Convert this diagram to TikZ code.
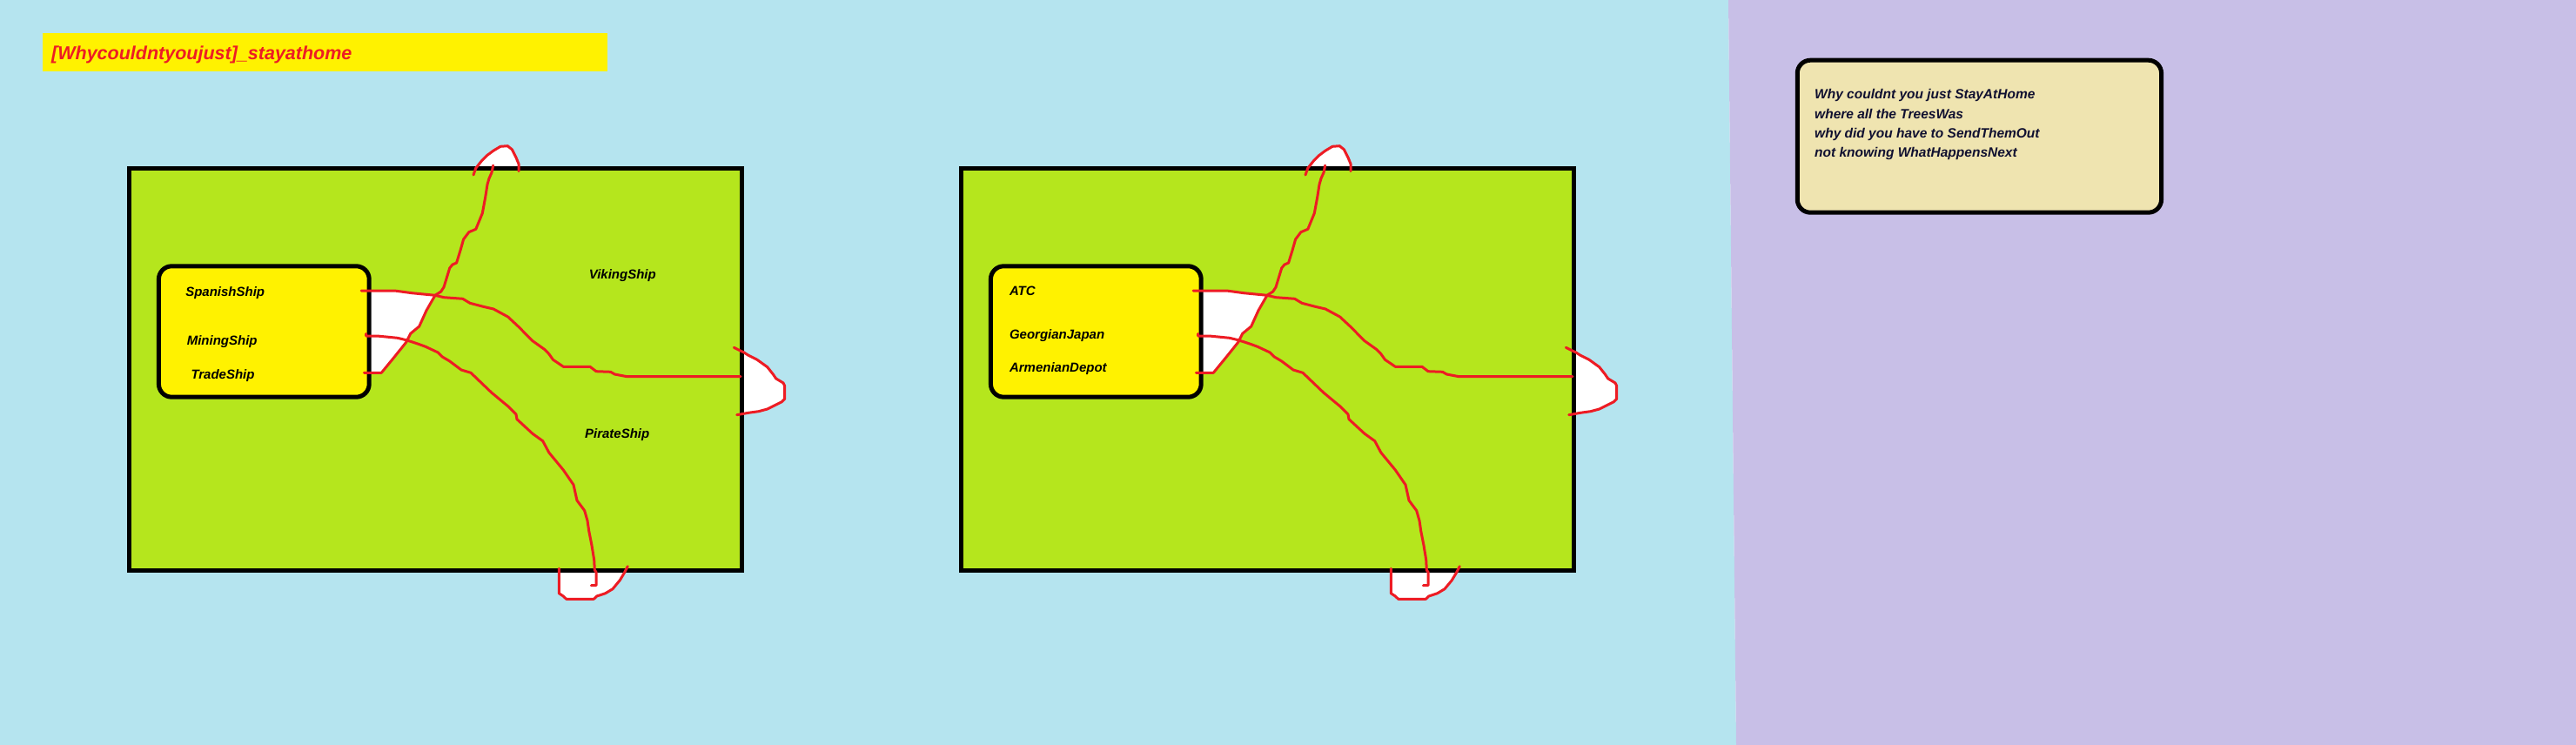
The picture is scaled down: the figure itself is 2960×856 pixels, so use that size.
\documentclass[tikz,border=0pt]{standalone}
\usepackage{fontspec}
\setmainfont{Liberation Sans}
\definecolor{bgblue}{RGB}{181,228,239}
\definecolor{bgpurple}{RGB}{200,191,231}
\definecolor{limefill}{RGB}{181,230,29}
\definecolor{shipyellow}{RGB}{255,242,0}
\definecolor{redink}{RGB}{237,28,36}
\definecolor{beigefill}{RGB}{239,228,176}
\definecolor{navyink}{RGB}{16,16,48}
\tikzset{
  panelframe/.style={draw=black, fill=limefill, line width=5pt, minimum width=704.6pt, minimum height=461.5pt, inner sep=0pt, outer sep=0pt},
  shipbox/.style={draw=black, fill=shipyellow, line width=5pt, rounded corners=15pt, minimum width=241.8pt, minimum height=150.4pt, inner sep=0pt, outer sep=0pt},
  infobox/.style={draw=black, fill=beigefill, line width=5pt, rounded corners=15pt, minimum width=418.3pt, minimum height=175pt, inner sep=0pt, outer sep=0pt},
  titlebar/.style={fill=shipyellow, minimum width=649.5pt, minimum height=44pt, inner sep=0pt, outer sep=0pt},
  redline/.style={draw=redink, line width=3pt, line join=round, line cap=round},
  whitepatch/.style={fill=white, draw=none},
  shiplabel/.style={font=\fontsize{15}{18}\selectfont\bfseries\itshape, text=black, anchor=base west, inner sep=0pt},
  titletext/.style={font=\fontsize{21.5}{26}\selectfont\bfseries\itshape, text=redink, anchor=base west, inner sep=0pt},
  infotext/.style={font=\fontsize{15.5}{19}\selectfont\bfseries\itshape, text=navyink, anchor=base west, inner sep=0pt},
}
\newcommand{\shippanel}[2]{%
\begin{scope}[xshift=#2pt]
  % white patches outside the frame
  \fill[whitepatch] (546.7,197) -- (546.7,193.3) -- (553.3,185) -- (560,178.3) -- (566.7,173.3) -- (575,168.3) -- (583.3,167.7) -- (588.3,171.7) -- (593.3,181.7) -- (596,188.3) -- (596,197) -- cycle;
  \fill[whitepatch] (849,403) -- (855,405) -- (860,408.3) -- (870,413.3) -- (881.7,421.7) -- (888.3,430) -- (891.7,435) -- (900,440) -- (901.7,443.3) -- (901.7,458.3) -- (898.3,461.7) -- (891.7,465) -- (881.7,470) -- (871.7,472.7) -- (860,474.3) -- (849,476.3) -- cycle;
  \fill[whitepatch] (642.3,651) -- (642.3,681.7) -- (647.3,685) -- (650.7,688.3) -- (682.3,688.3) -- (685.7,685) -- (695.7,681.7) -- (704,676.7) -- (712.3,666.7) -- (717.3,658.3) -- (719,651) -- cycle;
  % frame
  \node[panelframe] (#1frame) at (500.3,424.25) {};
  % white patch inside
  \fill[whitepatch] (424,334) -- (453.3,334) -- (473.3,336.7) -- (500,339.3) -- (490,356.7) -- (481.7,375) -- (471.7,383.3) -- (466.7,393.3) -- (453.3,410) -- (438.3,428.3) -- (424,428.3) -- cycle;
  % ship box
  \node[shipbox] (#1box) at (303.3,381) {};
  % connector ends
  \coordinate (#1sa) at (415,334);
  \coordinate (#1sb) at (420.7,383.3);
  \coordinate (#1sc) at (418.3,428.3);
  \coordinate (#1ea) at (851,432.7);
  \coordinate (#1eb) at (679.3,672.7);
  \coordinate (#1ec) at (566.7,190);
  % red lines
  \draw[redline] (#1sa) -- (453.3,334) -- (473.3,336.7) -- (500,339.3) -- (510,341.7) -- (531.7,343.3) -- (540,348.3) -- (555.3,352.3) -- (567,355) -- (583.6,364) -- (595.4,375) -- (612,391.7) -- (626,401.7) -- (630.8,406.7) -- (635.5,413.3) -- (647.3,421.3) -- (678,421.3) -- (685,426.7) -- (701.6,427.3) -- (706.3,430) -- (720.5,432.7) -- (#1ea);
  \draw[redline] (#1sb) -- (420.7,386) -- (433.3,386) -- (456.7,388.3) -- (466.7,390.7) -- (480,395) -- (489,398.3) -- (503.3,405) -- (508.3,410) -- (516.7,415) -- (530,425) -- (541,428.3) -- (564.7,451) -- (583.6,466.7) -- (593,476) -- (594,481.7) -- (612,498.3) -- (623.7,506.7) -- (630.8,520) -- (647.3,540) -- (659,557) -- (663,575) -- (671.7,586.7) -- (675,598.3) -- (676.7,610) -- (680,626.7) -- (682.7,643.3) -- (683.3,655) -- (685,657.3) -- (685,672.7) -- (#1eb);
  \draw[redline] (#1sc) -- (438.3,428.3) -- (453.3,410) -- (466.7,393.3) -- (471.7,383.3) -- (481.7,375) -- (490,356.7) -- (500,339.3) -- (506.7,335) -- (510,330) -- (516.7,308) -- (520,304) -- (524.6,302) -- (529.3,286.7) -- (532.6,275) -- (538.8,266.7) -- (546.8,263.3) -- (554.3,245) -- (557.7,226.7) -- (560,212) -- (562,205) -- (565,198.3) -- (#1ec);
  % bump outlines
  \draw[redline] (544,201) -- (546.7,193.3) -- (553.3,185) -- (560,178.3) -- (566.7,173.3) -- (575,168.3) -- (583.3,167.7) -- (588.3,171.7) -- (593.3,181.7) -- (596,188.3) -- (596,196.7);
  \draw[redline] (843.3,399.3) -- (850,402.7) -- (855,405) -- (860,408.3) -- (870,413.3) -- (881.7,421.7) -- (888.3,430) -- (891.7,435) -- (900,440) -- (901.7,443.3) -- (901.7,458.3) -- (898.3,461.7) -- (891.7,465) -- (881.7,470) -- (871.7,472.7) -- (860,474.3) -- (846.7,476.7);
  \draw[redline] (642.3,653.3) -- (642.3,681.7) -- (647.3,685) -- (650.7,688.3) -- (682.3,688.3) -- (685.7,685) -- (695.7,681.7) -- (704,676.7) -- (712.3,666.7) -- (717.3,658.3) -- (721.3,650.7);
\end{scope}}

\begin{document}
\begin{tikzpicture}[x=1pt,y=-1pt]
  \useasboundingbox (0,0) rectangle (2960,856);
  \fill[bgblue] (0,0) -- (1986,0) -- (1995,856) -- (0,856) -- cycle;
  \fill[bgpurple] (1986,0) -- (2960,0) -- (2960,856) -- (1995,856) -- cycle;
  % title
  \node[titlebar] (titlebar) at (373.25,59.7) {};
  \node[titletext] (titletxt) at (59,68.3) {[Whycouldntyoujust]\_stayathome};
  % panels
  \shippanel{p}{0}
  \shippanel{q}{956}
  % labels panel 1
  \node[shiplabel] (spanish) at (213.1,340) {SpanishShip};
  \node[shiplabel] (mining) at (214.6,396.7) {MiningShip};
  \node[shiplabel] (trade) at (219.3,435) {TradeShip};
  \node[shiplabel] (viking) at (676.6,320.7) {VikingShip};
  \node[shiplabel] (pirate) at (671.9,503.3) {PirateShip};
  % labels panel 2
  \node[shiplabel] (atc) at (1159.8,339) {ATC};
  \node[shiplabel] (georgian) at (1159.8,389.3) {GeorgianJapan};
  \node[shiplabel] (armenian) at (1159.8,427.3) {ArmenianDepot};
  % info box
  \node[infobox] (infobox) at (2274.4,156.7) {};
  \node[infotext] (infoa) at (2085,114) {Why couldnt you just StayAtHome};
  \node[infotext] (infob) at (2085,136) {where all the TreesWas};
  \node[infotext] (infoc) at (2085,158) {why did you have to SendThemOut};
  \node[infotext] (infod) at (2085,180) {not knowing WhatHappensNext};
\end{tikzpicture}
\end{document}
